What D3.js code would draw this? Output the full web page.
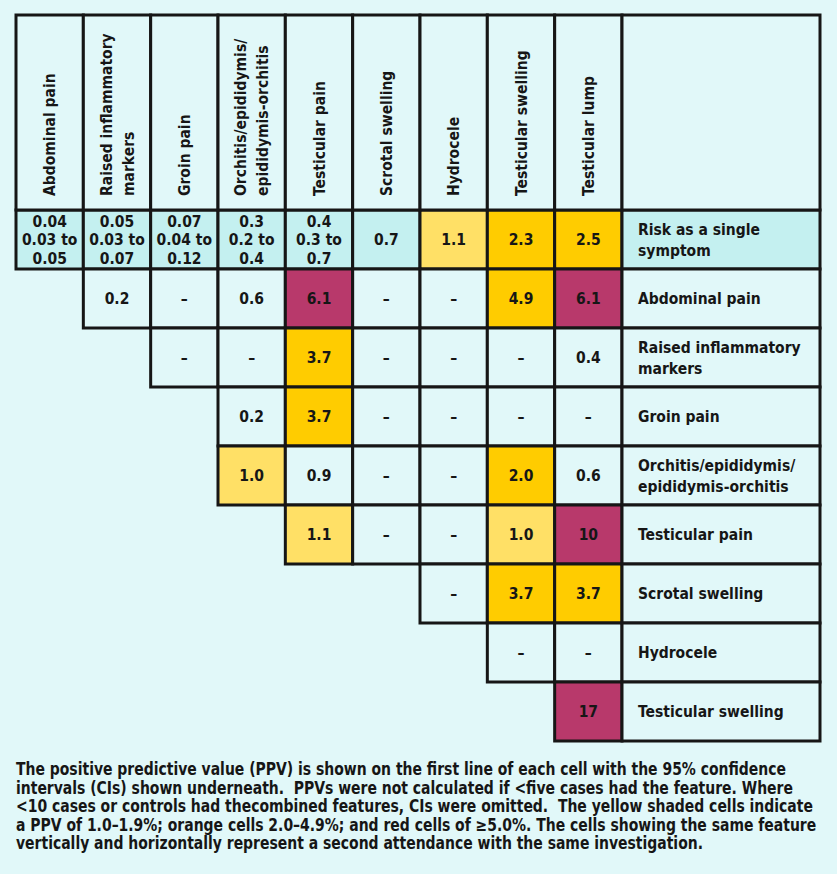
<!DOCTYPE html>
<html>
<head>
<meta charset="utf-8">
<script src="https://cdn.jsdelivr.net/npm/d3@7"></script>
<style>
  html, body { margin: 0; padding: 0; background: #e1f8f9; }
  svg { display: block; }
  text { font-family: "DejaVu Sans Condensed", "DejaVu Sans", sans-serif; font-stretch: condensed; }
</style>
</head>
<body>
<svg id="chart" width="837" height="874"></svg>
<script>
// ---- data ----
const columnLabels = [
  ["Abdominal pain"],
  ["Raised inflammatory", "markers"],
  ["Groin pain"],
  ["Orchitis/epididymis/", "epididymis-orchitis"],
  ["Testicular pain"],
  ["Scrotal swelling"],
  ["Hydrocele"],
  ["Testicular swelling"],
  ["Testicular lump"]
];
const rowLabels = [
  ["Risk as a single", "symptom"],
  ["Abdominal pain"],
  ["Raised inflammatory", "markers"],
  ["Groin pain"],
  ["Orchitis/epididymis/", "epididymis-orchitis"],
  ["Testicular pain"],
  ["Scrotal swelling"],
  ["Hydrocele"],
  ["Testicular swelling"]
];
// first column index in which each row has a cell
const rowStart = [0, 1, 2, 3, 3, 4, 6, 7, 8];
// PPV values (%), "–" = not calculated
const riskSingle = ["0.04", "0.05", "0.07", "0.3", "0.4", "0.7", "1.1", "2.3", "2.5"];
const riskCI = ["0.03 to 0.05", "0.03 to 0.07", "0.04 to 0.12", "0.2 to 0.4", "0.3 to 0.7", "", "", "", ""];
const abdominalPain = ["0.2", "–", "0.6", "6.1", "–", "–", "4.9", "6.1"];
const raisedInflammatory = ["–", "–", "3.7", "–", "–", "–", "0.4"];
const groinPain = ["0.2", "3.7", "–", "–", "–", "–"];
const orchitis = ["1.0", "0.9", "–", "–", "2.0", "0.6"];
const testicularPain = ["1.1", "–", "–", "1.0", "10"];
const scrotalSwelling = ["–", "3.7", "3.7"];
const hydrocele = ["–", "–"];
const testicularSwelling = ["17"];
const rowValues = [riskSingle, abdominalPain, raisedInflammatory, groinPain, orchitis,
                   testicularPain, scrotalSwelling, hydrocele, testicularSwelling];
const footnote = [
  "The positive predictive value (PPV) is shown on the first line of each cell with the 95% confidence",
  "intervals (CIs) shown underneath.  PPVs were not calculated if <five cases had the feature. Where",
  "<10 cases or controls had thecombined features, CIs were omitted.  The yellow shaded cells indicate",
  "a PPV of 1.0–1.9%; orange cells 2.0–4.9%; and red cells of ≥5.0%. The cells showing the same feature",
  "vertically and horizontally represent a second attendance with the same investigation."
];

// ---- styles ----
const BG = "#e1f8f9", FIRST = "#c4f0f0", YELLOW = "#ffe066", ORANGE = "#ffcc00", RED = "#b8396b";
function fillFor(v, r) {
  const n = parseFloat(v);
  if (!isNaN(n)) {
    if (n >= 5) return RED;
    if (n >= 2) return ORANGE;
    if (n >= 1) return YELLOW;
  }
  return r === 0 ? FIRST : BG;
}

// ---- layout ----
const svg = d3.select("#chart");
const nCols = columnLabels.length;
const x = d3.scaleBand().domain(d3.range(nCols)).range([16, 622]).padding(0);
const labelX0 = 622, labelX1 = 820;
const headerTop = 15, headerBottom = 210;
const y = d3.scaleBand().domain(d3.range(rowLabels.length)).range([210, 741]).padding(0);
const SW = 3;
const INK = "#161616";

// cells
const cells = [];
rowValues.forEach((vals, r) => {
  vals.forEach((v, i) => {
    const c = rowStart[r] + i;
    cells.push({ r, c, v, ci: r === 0 ? riskCI[c] : "" });
  });
});

svg.append("g").selectAll("rect").data(cells).join("rect")
  .attr("x", d => x(d.c)).attr("y", d => y(d.r))
  .attr("width", x.bandwidth()).attr("height", y.bandwidth())
  .attr("fill", d => fillFor(d.v, d.r))
  .attr("stroke", INK).attr("stroke-width", SW);

// label column cells
svg.append("g").selectAll("rect").data(rowLabels).join("rect")
  .attr("x", labelX0).attr("y", (d, r) => y(r))
  .attr("width", labelX1 - labelX0).attr("height", y.bandwidth())
  .attr("fill", (d, r) => r === 0 ? FIRST : BG)
  .attr("stroke", INK).attr("stroke-width", SW);

// header cells
svg.append("g").selectAll("rect").data(d3.range(nCols + 1)).join("rect")
  .attr("x", i => i < nCols ? x(i) : labelX0).attr("y", headerTop)
  .attr("width", i => i < nCols ? x.bandwidth() : labelX1 - labelX0)
  .attr("height", headerBottom - headerTop)
  .attr("fill", BG).attr("stroke", INK).attr("stroke-width", SW);

// header labels (rotated)
const hl = svg.append("g").selectAll("g").data(columnLabels).join("g")
  .attr("transform", (d, i) => `translate(${x(i) + x.bandwidth() / 2},196) rotate(-90)`);
hl.each(function(lines) {
  const t = d3.select(this).append("text")
    .attr("font-weight", 700).attr("font-size", 15.5)
    .attr("fill", INK).attr("text-anchor", "start");
  const off = lines.length === 1 ? [0] : [-11, 11];
  lines.forEach((ln, k) => {
    t.append("tspan").attr("x", 0).attr("y", off[k]).attr("dy", "0.36em").text(ln);
  });
});

// cell texts
const ct = svg.append("g").selectAll("text").data(cells).join("text")
  .attr("font-weight", 700).attr("font-size", 15.5)
  .attr("fill", INK).attr("text-anchor", "middle")
  .attr("transform", d => `translate(${x(d.c) + x.bandwidth() / 2},${y(d.r) + y.bandwidth() / 2})`);
ct.each(function(d) {
  const t = d3.select(this);
  let lines = [d.v];
  if (d.ci) {
    const parts = d.ci.split(" to ");
    lines = [d.v, parts[0] + " to", parts[1]];
  }
  const lh = 18.5;
  lines.forEach((ln, k) => {
    t.append("tspan").attr("x", 0).attr("y", (k - (lines.length - 1) / 2) * lh)
      .attr("dy", "0.36em").text(ln);
  });
});

// row labels
const rl = svg.append("g").selectAll("text").data(rowLabels).join("text")
  .attr("font-weight", 700).attr("font-size", 15.5).attr("fill", INK)
  .attr("transform", (d, r) => `translate(638,${y(r) + y.bandwidth() / 2})`);
rl.each(function(lines) {
  const t = d3.select(this);
  const lh = 21;
  lines.forEach((ln, k) => {
    t.append("tspan").attr("x", 0).attr("y", (k - (lines.length - 1) / 2) * lh)
      .attr("dy", "0.36em").text(ln);
  });
});

// footnote
const fg = svg.append("g").attr("transform", "translate(16,0)");
const ft = fg.selectAll("text").data(footnote).join("text")
  .attr("x", 0).attr("y", (d, i) => 775 + i * 18.6)
  .attr("font-weight", 700).attr("font-size", 17).attr("fill", INK)
  .style("white-space", "pre")
  .text(d => d);
let maxW = 0;
ft.each(function() { maxW = Math.max(maxW, this.getComputedTextLength()); });
const sx = 801 / maxW;
fg.attr("transform", `translate(16,0) scale(${sx},1)`);
</script>
</body>
</html>
